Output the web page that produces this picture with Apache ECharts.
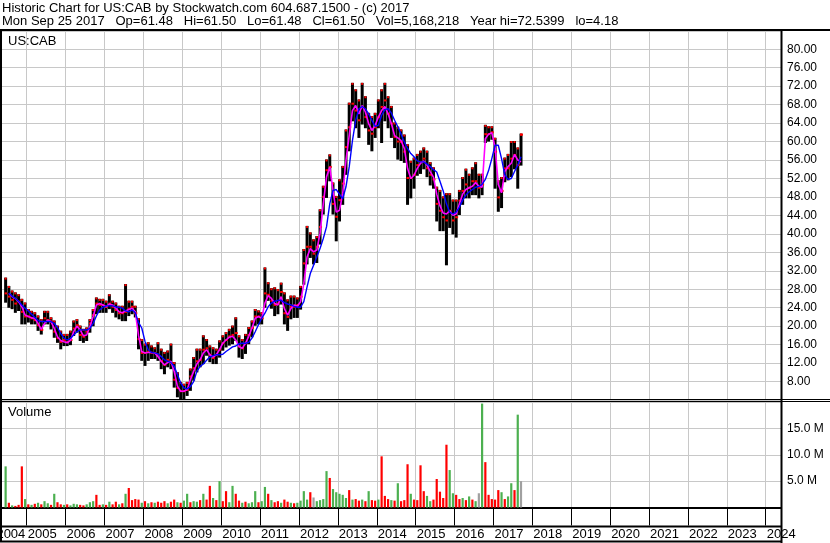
<!DOCTYPE html>
<html><head><meta charset="utf-8">
<script src="https://cdn.jsdelivr.net/npm/echarts@6/dist/echarts.min.js"></script>
<style>html,body{margin:0;padding:0;background:#fff}#c{width:830px;height:543px}</style>
</head><body><div id="c"></div>
<script>
// Monthly data from Jun 2004 to Sep 2017
const startYear = 2004, startMonth = 6;
const priceHigh = [
 30.3,28.5,27.5,27.1,26.7,25.7,24.9,
 23.5,23.1,22.8,22.1,21.3,23.1,23.1,21.7,21.0,19.9,18.8,18.1,
 18.1,18.8,21.0,21.3,19.9,19.2,19.5,21.3,23.5,26.0,25.7,25.7,
 25.3,26.7,25.3,24.9,24.2,24.2,28.9,25.3,25.3,24.2,21.5,17.0,
 16.0,16.3,15.6,15.2,16.3,14.9,14.2,14.5,16.0,12.0,9.8,7.7,
 7.3,7.7,10.6,13.1,14.9,14.9,17.8,17.0,15.6,15.2,14.9,16.7,
 17.8,18.5,19.2,19.9,21.7,17.8,17.0,18.1,19.6,21.0,23.5,23.2,
 22.8,32.5,29.3,28.0,28.2,27.8,29.2,27.1,25.6,26.4,26.4,26.0,
 28.5,36.5,41.5,40.1,38.6,39.3,45.1,50.2,55.9,57.0,50.9,48.0,
 51.6,54.5,62.4,68.2,72.5,71.1,68.9,72.5,69.6,66.0,65.3,66.0,
 68.9,71.1,72.5,69.6,67.5,63.9,63.0,62.4,61.3,59.2,55.6,56.3,
 57.1,57.8,58.5,57.8,55.3,54.2,50.0,49.3,47.9,48.6,48.6,47.2,
 47.2,49.3,52.1,53.9,52.8,54.2,55.3,52.8,52.8,63.4,63.1,63.1,
 60.6,51.4,52.1,56.3,57.1,59.9,59.9,58.5,61.5];
const priceLow = [
 25.3,24.2,23.9,23.1,23.5,20.6,20.6,
 21.0,20.6,20.6,19.2,18.4,20.6,20.6,19.5,17.7,16.6,15.2,15.9,
 15.9,16.1,18.1,18.8,17.0,16.6,17.0,18.8,20.2,22.8,23.1,23.1,
 23.1,23.9,23.1,22.1,21.7,21.3,21.3,22.4,22.8,22.1,15.2,12.7,
 11.6,12.7,13.1,13.1,12.7,10.9,9.8,11.3,10.9,6.9,4.8,4.3,
 4.2,5.1,6.2,8.4,10.2,11.3,12.0,13.8,12.4,12.0,12.0,13.4,
 14.9,15.6,16.0,16.3,17.0,13.4,13.1,14.2,16.3,17.8,20.3,20.6,
 20.6,24.2,25.7,24.0,22.4,22.8,24.9,20.6,19.2,21.7,22.0,22.0,
 23.8,29.2,33.6,35.0,33.6,33.9,37.9,44.4,48.0,51.6,44.4,38.6,
 42.9,46.5,53.0,58.1,64.6,63.1,61.0,63.9,63.1,59.5,58.1,61.0,
 63.1,59.9,64.6,63.1,61.0,58.8,56.3,56.0,55.6,46.5,47.9,50.0,
 52.8,53.2,54.2,52.5,50.7,50.0,42.9,40.8,40.8,33.4,41.5,40.1,
 39.4,44.3,46.5,47.9,47.9,48.6,48.6,47.9,48.6,59.9,60.2,60.6,
 50.0,45.0,45.8,51.4,51.8,52.5,54.2,50.0,55.0];
const priceClose = [
 27.1,26.4,25.7,24.9,25.3,23.1,22.1,
 22.1,21.7,21.3,20.2,19.2,21.7,21.3,21.0,18.8,17.4,16.6,17.0,
 16.6,17.0,19.5,20.2,18.1,17.7,18.8,20.6,22.4,24.9,24.6,24.6,
 24.2,24.9,24.2,23.5,22.8,22.8,23.1,23.8,24.2,22.8,17.2,14.2,
 14.2,14.5,14.2,14.2,13.8,12.4,11.6,12.7,12.0,8.4,6.6,5.9,
 5.9,6.2,9.1,10.9,12.4,12.7,14.9,15.2,13.8,13.1,13.8,14.9,
 16.3,17.0,17.8,18.1,18.5,15.6,15.2,16.3,18.1,19.6,22.1,22.1,
 21.7,27.1,26.8,25.5,24.6,24.9,27.4,22.8,22.0,24.2,24.2,24.6,
 26.4,33.6,37.2,37.2,35.7,37.2,41.5,48.0,53.8,54.5,46.5,43.7,
 47.3,50.9,58.8,63.1,68.2,66.7,64.6,67.5,65.3,62.4,61.7,63.1,
 65.3,67.5,68.9,66.0,63.9,61.0,60.0,59.9,57.8,52.1,52.1,52.8,
 54.9,55.6,56.3,54.2,52.8,51.8,46.5,45.0,43.6,42.9,45.0,42.9,
 43.6,47.2,49.3,50.7,50.0,51.4,51.4,50.0,50.7,61.6,61.6,62.0,
 57.8,47.9,49.3,54.2,54.2,56.3,57.1,54.9,61.5];
const maShort = [
 null,27.1,26.4,26.0,25.3,24.2,22.4,
 22.1,21.8,21.7,20.6,19.3,20.6,21.3,21.0,19.5,17.7,16.9,16.6,
 16.4,16.9,18.8,20.0,19.2,17.9,18.1,19.9,22.1,24.6,24.9,24.6,
 24.2,24.8,24.6,23.9,23.1,22.9,23.3,23.6,23.9,23.1,18.0,14.5,
 14.2,14.3,14.3,14.2,13.4,12.4,11.6,12.1,12.4,10.2,7.0,5.9,
 5.9,6.2,8.4,10.2,11.8,12.7,14.2,14.9,13.8,13.3,13.8,14.9,
 16.3,17.0,17.6,17.8,17.0,15.6,15.2,16.3,17.8,19.6,21.7,22.1,
 21.7,25.0,26.6,26.0,24.9,24.6,26.4,23.8,22.4,23.8,24.6,24.3,
 25.3,29.2,35.0,36.8,36.1,36.5,40.1,46.5,52.3,54.5,49.4,44.7,
 45.1,48.7,55.9,61.3,66.7,67.8,66.0,67.8,66.4,63.9,62.4,63.5,
 65.3,66.7,67.6,66.0,63.9,61.3,60.8,60.2,58.5,54.2,52.0,52.7,
 54.2,55.3,55.8,54.9,53.5,52.3,48.6,46.1,44.5,44.3,45.0,44.0,
 44.3,46.5,48.6,49.6,50.0,50.3,51.1,50.3,50.1,60.6,61.6,61.9,
 58.8,50.7,48.9,53.5,54.6,55.3,57.2,56.0,55.6];
const maLong = [
 null,27.2,26.5,26.0,25.4,24.6,23.9,
 23.3,22.6,21.9,21.2,21.0,21.0,21.0,21.0,20.6,19.7,18.4,17.4,
 17.0,17.4,18.1,18.8,19.2,19.2,19.2,19.5,20.6,22.2,23.5,24.1,
 24.4,24.4,24.4,24.2,24.1,23.9,23.3,23.1,23.5,22.9,20.8,19.6,
 16.7,14.9,14.3,14.2,14.0,13.4,12.7,12.4,12.1,11.3,9.5,7.7,
 6.6,6.4,6.9,8.0,10.2,11.3,11.8,12.6,13.3,13.6,13.8,13.8,
 13.9,14.5,15.0,15.5,15.7,16.2,16.3,16.3,16.5,17.4,18.8,20.3,
 21.7,22.8,24.2,25.0,25.4,25.6,25.6,25.1,24.8,24.6,24.3,24.1,
 24.1,25.3,28.5,31.4,33.2,35.0,36.8,39.0,41.5,46.5,49.4,49.6,
 48.6,47.6,50.2,54.5,60.2,64.6,67.1,67.6,67.1,66.0,64.6,63.3,
 63.5,65.7,66.9,67.1,66.2,64.6,63.2,61.6,59.9,58.5,57.4,56.7,
 55.8,55.6,55.6,55.1,54.6,53.9,53.4,51.4,49.3,46.5,44.7,44.3,
 44.7,45.8,47.3,48.4,49.1,49.6,50.1,50.3,50.7,51.8,53.7,56.3,
 59.2,59.2,56.3,52.8,51.8,52.0,53.5,54.9,56.7];
// volume in millions, direction u=up(green) d=down(red) n=unchanged(gray)
const volume = [
 7.8,0.9,0.4,0.3,0.5,7.8,1.6,
 0.6,0.5,0.7,0.9,0.6,1.2,0.8,0.5,2.6,1.0,0.6,0.5,
 0.6,0.4,0.7,0.6,0.5,0.4,0.6,1.0,1.2,2.4,0.5,0.6,
 0.5,1.1,0.6,1.1,0.6,0.8,2.6,3.7,1.4,1.6,1.5,0.9,
 1.2,0.8,1.0,0.9,1.1,0.9,1.2,0.8,1.1,1.5,1.0,0.9,
 1.3,2.6,1.0,1.2,1.1,1.4,2.6,1.5,4.1,1.8,1.4,5.0,
 1.2,3.1,1.0,4.1,2.6,1.3,0.9,1.1,0.8,1.0,3.1,1.0,
 1.2,3.9,2.6,1.4,1.0,1.2,0.9,1.5,1.1,0.9,0.8,0.9,
 1.3,3.1,1.5,2.9,1.9,1.2,1.4,1.6,6.9,5.6,3.5,2.9,
 2.6,2.4,1.8,3.3,1.5,1.6,1.3,1.5,1.2,3.1,1.4,1.3,
 1.5,9.7,2.2,1.6,1.4,1.3,4.6,1.2,1.4,8.2,2.6,1.5,
 1.4,8.0,3.1,2.2,1.2,1.5,5.4,3.0,1.8,11.9,7.1,2.7,
 2.4,1.6,1.8,1.4,2.1,1.5,1.2,2.7,19.7,8.6,2.4,1.6,
 1.5,3.3,2.9,1.6,2.1,4.6,3.3,17.6,5.0];
const volDir = [
 'u','d','u','d','d','d','u',
 'd','u','d','u','d','u','u','d','u','d','d','u',
 'd','u','u','u','d','d','u','u','u','d','d','u',
 'd','u','d','d','u','d','u','d','d','d','d','u',
 'd','u','d','u','d','d','d','u','d','d','u','d',
 'u','u','d','u','u','d','u','d','d','u','d','u',
 'd','d','u','u','d','d','u','d','u','u','u','d',
 'u','u','d','u','d','d','u','d','d','u','d','u',
 'u','u','u','d','n','u','u','u','u','d','u','u',
 'u','u','u','d','u','d','d','u','d','u','d','d',
 'u','d','d','d','u','d','u','d','d','d','u','d',
 'd','d','d','u','u','d','d','d','d','d','u','u',
 'd','d','u','d','u','d','u','n','u','d','d','d',
 'd','d','u','d','u','u','d','u','n'];
const priceTicks = [8,12,16,20,24,28,32,36,40,44,48,52,56,60,64,68,72,76,80];
const volTicks = [5,10,15];
const yearLabels = ['2004','2005','2006','2007','2008','2009','2010','2011','2012','2013','2014','2015','2016','2017','2018','2019','2020','2021','2022','2023','2024'];

const months = priceClose.map((_, i) => {
  const m = startMonth - 1 + i;
  return [startYear + Math.floor(m / 12), m % 12 + 1];
});
const xs = months.map(([y, m]) => y + (m - 0.5) / 12);

const FONT = "'Liberation Sans', Arial, sans-serif";
const colors = {u: '#4cb050', d: '#ff0000', n: '#a0a0a0'};

const chart = echarts.init(document.getElementById('c'), null, {renderer: 'canvas'});

const gridLeft = -12.2, gridRight = 49;
const xMin = 2004, xMax = 2024.393;

const option = {
  animation: false,
  backgroundColor: '#fff',
  grid: [
    {left: gridLeft, right: gridRight, top: 31, height: 369, containLabel: false, outerBoundsMode: 'none'},
    {left: gridLeft, right: gridRight, top: 402, height: 105.5, containLabel: false, outerBoundsMode: 'none'}
  ],
  xAxis: [
    {type: 'value', gridIndex: 0, min: xMin, max: xMax, interval: 1,
     axisLine: {show: false}, axisTick: {show: false}, axisLabel: {show: false},
     splitLine: {show: true, lineStyle: {color: '#c8c8c8', width: 1}}},
    {type: 'value', gridIndex: 1, min: xMin, max: xMax, interval: 1,
     axisLine: {show: true, onZero: false, lineStyle: {color: '#000', width: 2}},
     axisTick: {show: true, length: 18, lineStyle: {color: '#000', width: 1}},
     splitLine: {show: true, lineStyle: {color: '#c8c8c8', width: 1}},
     axisLabel: {show: true, margin: 20, align: 'left', color: '#000', fontSize: 13, fontFamily: FONT,
       hideOverlap: false,
       formatter: v => {
         const yv = Math.round(v);
         if (Math.abs(v - yv) > 1e-6) return '';
         const lbl = yearLabels.indexOf(String(yv));
         if (lbl < 0) return '';
         return (lbl === 0 ? '{f|' : '{y|') + yearLabels[lbl] + '}';
       },
       rich: {
         f: {padding: [0, 0, 0, 8.6], fontSize: 13, fontFamily: FONT, color: '#000'},
         y: {padding: [0, 0, 0, 1], fontSize: 13, fontFamily: FONT, color: '#000'}
       }}}
  ],
  yAxis: [
    {type: 'value', gridIndex: 0, position: 'right', min: 4, max: 83.95, interval: 4,
     axisLine: {show: false}, axisTick: {show: false},
     splitLine: {show: true, lineStyle: {color: '#c8c8c8', width: 1}},
     axisLabel: {margin: 6, align: 'left', color: '#000', fontSize: 12, fontFamily: FONT,
       formatter: v => priceTicks.indexOf(Math.round(v * 1000) / 1000) >= 0 ? v.toFixed(2) : ''}},
    {type: 'value', gridIndex: 1, position: 'right', min: 0, max: 20, interval: 5,
     axisLine: {show: false}, axisTick: {show: false},
     splitLine: {show: true, lineStyle: {color: '#c8c8c8', width: 1}},
     axisLabel: {margin: 6, align: 'left', color: '#000', fontSize: 12, fontFamily: FONT,
       formatter: v => volTicks.indexOf(v) >= 0 ? v.toFixed(1) + ' M' : ''}}
  ],
  series: [
    {type: 'custom', xAxisIndex: 0, yAxisIndex: 0, z: 2, clip: true,
     data: xs.map((x, i) => [x, priceLow[i], priceHigh[i], priceClose[i]]),
     renderItem: (params, api) => {
       const x = api.value(0);
       const pLo = api.coord([x, api.value(1)]);
       const pHi = api.coord([x, api.value(2)]);
       const pCl = api.coord([x, api.value(3)]);
       return {type: 'group', children: [
         {type: 'line', shape: {x1: pLo[0], y1: pLo[1] + 1, x2: pHi[0], y2: pHi[1] - 1},
          style: {stroke: '#000', lineWidth: 3}},
         {type: 'line', shape: {x1: pCl[0] - 1, y1: pCl[1], x2: pCl[0] + 2, y2: pCl[1]},
          style: {stroke: '#ff0000', lineWidth: 2}},
         {type: 'line', shape: {x1: pHi[0] - 1, y1: pHi[1], x2: pHi[0] + 1, y2: pHi[1]},
          style: {stroke: '#ff0000', lineWidth: 2}}
       ]};
     }},
    {type: 'line', xAxisIndex: 0, yAxisIndex: 0, z: 3, showSymbol: false, symbol: 'none',
     data: xs.map((x, i) => [x, maShort[i]]), connectNulls: false,
     lineStyle: {color: '#ff00ff', width: 1.6}},
    {type: 'line', xAxisIndex: 0, yAxisIndex: 0, z: 4, showSymbol: false, symbol: 'none',
     data: xs.map((x, i) => [x, maLong[i]]), connectNulls: false,
     lineStyle: {color: '#0000ff', width: 1.4}},
    {type: 'bar', xAxisIndex: 1, yAxisIndex: 1, barWidth: 2.2, clip: true,
     data: xs.map((x, i) => ({value: [x, volume[i]], itemStyle: {color: colors[volDir[i]]}}))}
  ],
  graphic: [
    {type: 'text', left: 2, top: 2, z: 100, style: {text: 'Historic Chart for US:CAB by Stockwatch.com 604.687.1500 - (c) 2017', font: '13px ' + FONT, fill: '#000'}},
    {type: 'text', left: 2, top: 15, z: 100, style: {text: 'Mon Sep 25 2017   Op=61.48   Hi=61.50   Lo=61.48   Cl=61.50   Vol=5,168,218   Year hi=72.5399   lo=4.18', font: '13px ' + FONT, fill: '#000'}},
    {type: 'text', left: 8, top: 35, z: 100, style: {text: 'US:CAB', font: '13px ' + FONT, fill: '#000'}},
    {type: 'text', left: 8, top: 406, z: 100, style: {text: 'Volume', font: '13px ' + FONT, fill: '#000'}},
    {type: 'line', z: 100, shape: {x1: 0, y1: 30, x2: 830, y2: 30}, style: {stroke: '#000', lineWidth: 2}},
    {type: 'line', z: 100, shape: {x1: 0, y1: 399.5, x2: 830, y2: 399.5}, style: {stroke: '#000', lineWidth: 1}},
    {type: 'line', z: 100, shape: {x1: 0, y1: 401.5, x2: 830, y2: 401.5}, style: {stroke: '#000', lineWidth: 1}},
    {type: 'line', z: 100, shape: {x1: 781.5, y1: 30, x2: 781.5, y2: 543}, style: {stroke: '#000', lineWidth: 2}},
    {type: 'line', z: 100, shape: {x1: 1, y1: 30, x2: 1, y2: 542}, style: {stroke: '#000', lineWidth: 2}},
    {type: 'line', z: 100, shape: {x1: 0, y1: 526.5, x2: 781, y2: 526.5}, style: {stroke: '#000', lineWidth: 2}},
    {type: 'line', z: 100, shape: {x1: 0, y1: 541.5, x2: 781, y2: 541.5}, style: {stroke: '#000', lineWidth: 2}}
  ]
};
chart.setOption(option);
</script></body></html>
